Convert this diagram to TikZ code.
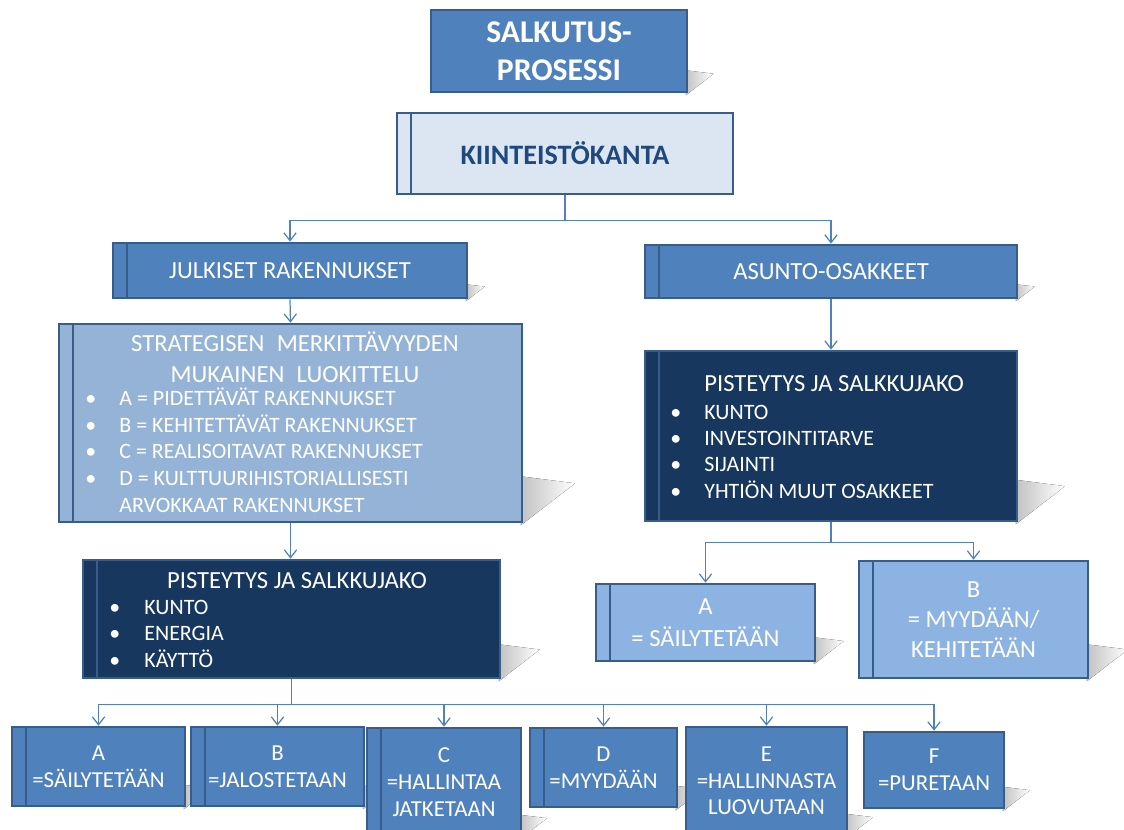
\documentclass[tikz,border=0pt]{standalone}
\usepackage{fontspec}
\setmainfont{Carlito}
\usepackage{tikz}
\usetikzlibrary{
  arrows.meta,
  positioning,
  backgrounds
}

\definecolor{midblue}{HTML}{4F81BD}
\definecolor{edgeblue}{HTML}{385D8A}
\definecolor{paleblue}{HTML}{DCE6F2}
\definecolor{softblue}{HTML}{95B3D7}
\definecolor{skyblue}{HTML}{8DB3E2}
\definecolor{navy}{HTML}{17375E}
\definecolor{titleblue}{HTML}{1F497D}

\begin{document}
\begin{tikzpicture}[
  x=0.02cm, y=-0.02cm,
  box/.style={draw=edgeblue, line width=1.5pt, text=white, align=center, inner sep=0pt},
  stripe/.style={path picture={\draw[draw=edgeblue, line width=1.5pt]
      ([xshift=#1]path picture bounding box.north west) --
      ([xshift=#1]path picture bounding box.south west);}},
  stripe/.default=0.28cm,
  wire/.style={draw=midblue, line width=0.7pt, -{Straight Barb[length=4.5pt,width=7pt]}},
  stem/.style={draw=midblue, line width=0.7pt},
  listtxt/.style={anchor=base west, text=white, inner sep=0pt, font=\fontsize{12.5}{15}\selectfont},
  headtxt/.style={text=white, inner sep=0pt, font=\fontsize{14}{17.6}\selectfont},
  dropshade/.style={left color=black!24, right color=white}
]
\useasboundingbox (0,0) rectangle (1124,830);

% top
\node[box, fill=midblue, minimum width=5.12cm, minimum height=1.64cm,
      font=\bfseries\fontsize{18}{21.5}\selectfont] (prosessi) at (559,51) {SALKUTUS-\\PROSESSI};
\node[box, stripe, fill=paleblue, text=titleblue, minimum width=6.72cm, minimum height=1.62cm,
      font=\bfseries\fontsize{16}{19}\selectfont] (kanta) at (565,153.5) {KIINTEISTÖKANTA};

% branches
\node[box, stripe, fill=midblue, minimum width=7.08cm, minimum height=1.10cm,
      font=\fontsize{14}{17}\selectfont] (julkiset) at (290,270.5) {JULKISET RAKENNUKSET};
\node[box, stripe, fill=midblue, minimum width=7.44cm, minimum height=1.06cm,
      font=\fontsize{14}{17}\selectfont] (asunto) at (831,271.5) {ASUNTO-OSAKKEET};

% --- julkiset rakennukset ---
\node[box, stripe, fill=softblue, minimum width=9.26cm, minimum height=3.96cm] (luokittelu) at (290.5,423) {};
\node[headtxt, align=center] (luokotsikko) at (295,357)
  {STRATEGISEN\hspace{0.5em}MERKITTÄVYYDEN\\MUKAINEN\hspace{0.5em}LUOKITTELU};
\foreach \t [count=\i] in {A = PIDETTÄVÄT RAKENNUKSET, B = KEHITETTÄVÄT RAKENNUKSET,
    C = REALISOITAVAT RAKENNUKSET, D = KULTTUURIHISTORIALLISESTI}{
  \node[listtxt] (lb\i) at (85,{406+26.5*(\i-1)}) {\textbullet};
  \node[listtxt] (lt\i) at (119,{406+26.5*(\i-1)}) {\t};
}
\node[listtxt] (lt5) at (119,512) {ARVOKKAAT RAKENNUKSET};

\node[box, stripe, fill=navy, minimum width=8.34cm, minimum height=2.36cm] (pisteL) at (291.5,619) {};
\node[headtxt, anchor=base] (pisteLotsikko) at (297,588) {PISTEYTYS JA SALKKUJAKO};
\foreach \t [count=\i] in {KUNTO, ENERGIA, KÄYTTÖ}{
  \node[listtxt] (pb\i) at (109,{614+26.5*(\i-1)}) {\textbullet};
  \node[listtxt] (pt\i) at (144,{614+26.5*(\i-1)}) {\t};
}

% --- asunto-osakkeet ---
\node[box, stripe, fill=navy, minimum width=7.44cm, minimum height=3.40cm] (pisteR) at (831,436) {};
\node[headtxt, anchor=base west] (pisteRotsikko) at (704,392) {PISTEYTYS JA SALKKUJAKO};
\foreach \t [count=\i] in {KUNTO, INVESTOINTITARVE, SIJAINTI, YHTIÖN MUUT OSAKKEET}{
  \node[listtxt] (rb\i) at (670,{419+26.4*(\i-1)}) {\textbullet};
  \node[listtxt] (rt\i) at (704,{419+26.4*(\i-1)}) {\t};
}

\node[box, stripe, fill=skyblue, minimum width=4.38cm, minimum height=1.54cm,
      font=\fontsize{14}{18.5}\selectfont] (asA) at (705.5,622.5) {A\\= SÄILYTETÄÄN};
\node[box, stripe, fill=skyblue, minimum width=4.58cm, minimum height=2.34cm,
      font=\fontsize{14}{17}\selectfont] (asB) at (973.5,619.5) {B\\= MYYDÄÄN/\\KEHITETÄÄN};

% --- salkut ---
\begin{scope}[every node/.append style={box, fill=midblue, font=\fontsize{13}{15.2}\selectfont}]
\node[stripe, minimum width=3.46cm, minimum height=1.58cm] (jA) at (98.5,766.5) {A\\=SÄILYTETÄÄN};
\node[stripe, minimum width=3.46cm, minimum height=1.58cm] (jB) at (277.5,766.5) {B\\=JALOSTETAAN};
\node[stripe, minimum width=3.08cm, minimum height=2.16cm] (jC) at (444,782) {C\\=HALLINTAA\\JATKETAAN};
\node[stripe, minimum width=2.94cm, minimum height=1.58cm] (jD) at (603.5,767.5) {D\\=MYYDÄÄN};
\node[minimum width=3.22cm, minimum height=2.16cm] (jE) at (766.5,781) {E\\=HALLINNASTA\\LUOVUTAAN};
\node[minimum width=2.80cm, minimum height=1.52cm] (jF) at (934,770) {F\\=PURETAAN};
\end{scope}

% connectors
\coordinate (fork) at ([yshift=-0.5cm]kanta.south);
\draw[stem] (kanta.south) -- (fork);
\draw[wire] (fork) -| (julkiset.north);
\draw[wire] (fork) -| (asunto.north);

\draw[wire] (julkiset.south) -- (luokittelu.north);
\draw[wire] (luokittelu.south) -- (luokittelu.south |- pisteL.north);
\coordinate (bfork) at ([yshift=-0.5cm]pisteL.south);
\draw[stem] (pisteL.south) -- (bfork);
\foreach \b in {jA,jB,jC,jD,jE,jF}
  \draw[wire] (bfork) -| (\b.north);

\draw[wire] (asunto.south) -- (pisteR.north);
\coordinate (rfork) at ([yshift=-0.4cm]pisteR.south);
\draw[stem] (pisteR.south) -- (rfork);
\draw[wire] (rfork) -| (asA.north);
\draw[wire] (rfork) -| (asB.north);

% shadows
\begin{scope}[on background layer]
\foreach \b/\s in {prosessi/0.46, julkiset/0.3, asunto/0.3, luokittelu/0.94, pisteL/0.7,
    pisteR/0.85, asA/0.5, asB/0.7, jA/0.45, jB/0.45, jC/0.45, jD/0.45, jE/0.45, jF/0.45}{
  \fill[dropshade] ([xshift=-0.05cm,yshift=-0.04cm]\b.south east) -- ([xshift=-0.05cm,yshift=\s cm]\b.south east)
    -- ([xshift=1.1*\s cm,yshift=0.85*\s cm]\b.south east) -- cycle;
}
\end{scope}

\end{tikzpicture}
\end{document}
